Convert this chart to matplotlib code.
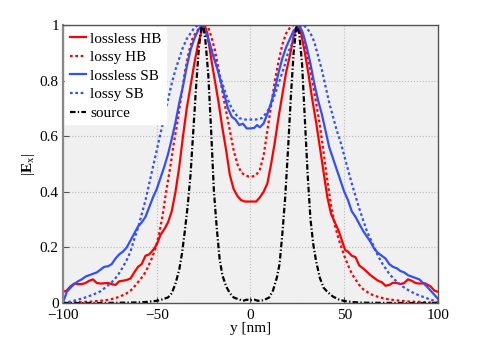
import matplotlib
matplotlib.use("Agg")
import matplotlib.pyplot as plt

# lossless HB (red solid)
y_lossless_hb = [-100, -98, -96, -94, -92, -90, -88, -86, -84, -82, -80, -78, -76, -74, -72, -70,
                 -68, -66, -64, -62, -60, -58, -56, -54, -52, -50, -48, -46, -44, -42, -40, -38,
                 -36, -34, -32, -30, -28, -26, -24.5, -23, -21, -19, -17, -15, -13, -11, -9, -7,
                 -5, -3, 0, 3, 5, 7, 9, 11, 13, 15, 17, 19, 21, 23, 25, 27, 29, 31, 33, 35, 37,
                 39, 41, 43, 45, 47, 49, 50.5, 52, 54, 56, 58, 60, 62, 64, 66, 68, 70, 72, 74,
                 76, 78, 80, 82, 84, 86, 88, 90, 93, 96, 98, 100]
e_lossless_hb = [0.04, 0.045, 0.06, 0.07, 0.068, 0.068, 0.072, 0.08, 0.085, 0.072, 0.07, 0.071,
                 0.072, 0.068, 0.065, 0.078, 0.08, 0.083, 0.088, 0.11, 0.13, 0.14, 0.17, 0.175,
                 0.19, 0.21, 0.245, 0.265, 0.29, 0.33, 0.40, 0.49, 0.60, 0.70, 0.78, 0.86, 0.93,
                 0.98, 1.0, 0.97, 0.88, 0.80, 0.72, 0.63, 0.55, 0.46, 0.41, 0.385, 0.37, 0.365,
                 0.365, 0.365, 0.38, 0.40, 0.43, 0.50, 0.58, 0.67, 0.75, 0.83, 0.89, 0.96, 1.0,
                 0.97, 0.90, 0.82, 0.73, 0.65, 0.56, 0.47, 0.38, 0.32, 0.29, 0.26, 0.22, 0.19,
                 0.185, 0.17, 0.165, 0.135, 0.125, 0.113, 0.10, 0.09, 0.08, 0.075, 0.062, 0.065,
                 0.073, 0.072, 0.068, 0.072, 0.085, 0.08, 0.072, 0.07, 0.071, 0.06, 0.045, 0.04]

# lossy HB (red dotted)
y_lossy_hb = [-100, -95, -90, -85, -80, -75, -70, -66, -63, -60, -57, -55, -53, -51, -49, -47,
              -45, -43, -41, -39, -37, -35, -33, -31, -29, -27, -25, -23, -21, -19, -17, -15,
              -13, -11, -9, -7, -5, -3, -1, 1, 3, 5, 7, 9, 11, 13, 15, 17, 19, 21, 23, 25, 27,
              29, 31, 33, 35, 37, 39, 41, 43, 45, 47, 50, 53, 55, 58, 60, 64, 68, 72, 76, 80,
              85, 90, 95, 100]
e_lossy_hb = [0.0, 0.002, 0.004, 0.005, 0.008, 0.012, 0.022, 0.035, 0.05, 0.075, 0.10, 0.125,
              0.155, 0.19, 0.24, 0.31, 0.40, 0.48, 0.57, 0.65, 0.74, 0.83, 0.90, 0.95, 0.975,
              0.99, 1.0, 1.0, 0.96, 0.91, 0.84, 0.76, 0.69, 0.62, 0.55, 0.50, 0.47, 0.46, 0.455,
              0.455, 0.46, 0.48, 0.53, 0.62, 0.71, 0.80, 0.87, 0.93, 0.97, 0.99, 1.0, 0.99,
              0.97, 0.93, 0.87, 0.80, 0.72, 0.64, 0.54, 0.44, 0.35, 0.28, 0.23, 0.17, 0.12,
              0.095, 0.065, 0.05, 0.032, 0.022, 0.015, 0.011, 0.008, 0.005, 0.004, 0.002, 0.0]

# lossless SB (blue solid)
y_lossless_sb = [-100, -99, -98, -96, -94, -92, -90, -88, -86, -84, -82, -80, -78, -76, -74, -72,
                 -70, -68, -66, -64, -62, -60, -58, -56, -54, -52, -50, -48, -46, -44, -42, -40,
                 -38, -36, -34, -32, -30, -28, -26, -24, -22, -20, -18, -16, -14, -12, -10, -8,
                 -6, -4, -2, 0, 2, 3.5, 5, 7, 9, 11, 13, 15, 17, 19, 21, 23, 26, 28, 30, 32, 34,
                 36, 38, 40, 42, 44, 46, 48, 50, 52, 54, 56, 58, 60, 62, 64, 66, 68, 70, 72, 74,
                 76, 78, 80, 82, 84, 86, 88, 90, 92, 94, 96, 98, 100]
e_lossless_sb = [0.005, 0.02, 0.04, 0.055, 0.068, 0.078, 0.085, 0.095, 0.10, 0.105, 0.11, 0.12,
                 0.13, 0.132, 0.14, 0.16, 0.175, 0.185, 0.20, 0.225, 0.25, 0.275, 0.29, 0.31,
                 0.345, 0.38, 0.41, 0.45, 0.49, 0.535, 0.59, 0.65, 0.72, 0.78, 0.85, 0.91, 0.95,
                 0.98, 1.0, 0.98, 0.94, 0.89, 0.85, 0.80, 0.75, 0.70, 0.67, 0.66, 0.64, 0.645,
                 0.628, 0.628, 0.63, 0.64, 0.632, 0.646, 0.68, 0.72, 0.77, 0.83, 0.88, 0.92,
                 0.95, 0.98, 1.0, 0.97, 0.92, 0.86, 0.79, 0.73, 0.68, 0.62, 0.56, 0.52, 0.48,
                 0.44, 0.40, 0.37, 0.33, 0.31, 0.285, 0.26, 0.24, 0.22, 0.195, 0.18, 0.17, 0.16,
                 0.14, 0.13, 0.125, 0.115, 0.11, 0.10, 0.095, 0.09, 0.085, 0.072, 0.06, 0.045,
                 0.03, 0.015]

# lossy SB (blue dotted)
y_lossy_sb = [-100, -96, -92, -88, -84, -80, -77, -74, -71, -68, -66, -64, -62, -60, -58, -56,
              -54, -52, -50, -48, -46, -44, -42, -40, -38, -36, -34, -32, -30, -28, -26, -24,
              -22, -20, -18, -16, -14, -12, -10, -8, -6, -3, 0, 3, 6, 8, 10, 12, 14, 16, 18,
              20, 22, 24, 26, 28, 30, 32, 34, 36, 38, 40, 42, 44, 46, 48, 50, 52, 54, 56, 58,
              60, 62, 64, 66, 68, 70, 72, 74, 76, 78, 81, 84, 87, 90, 93, 96, 100]
e_lossy_sb = [0.0, 0.005, 0.012, 0.02, 0.03, 0.042, 0.058, 0.075, 0.097, 0.13, 0.155, 0.185,
              0.23, 0.27, 0.32, 0.37, 0.43, 0.49, 0.55, 0.61, 0.67, 0.73, 0.79, 0.84, 0.88,
              0.92, 0.95, 0.97, 0.99, 1.0, 0.995, 0.97, 0.93, 0.90, 0.85, 0.81, 0.77, 0.73,
              0.70, 0.68, 0.665, 0.66, 0.66, 0.66, 0.665, 0.68, 0.70, 0.73, 0.77, 0.81, 0.85,
              0.90, 0.93, 0.97, 0.995, 1.0, 0.99, 0.97, 0.94, 0.89, 0.84, 0.78, 0.72, 0.67,
              0.62, 0.58, 0.53, 0.48, 0.43, 0.385, 0.34, 0.30, 0.26, 0.23, 0.20, 0.17, 0.145,
              0.125, 0.105, 0.09, 0.077, 0.06, 0.047, 0.036, 0.027, 0.02, 0.012, 0.004]

# source (black dash-dot)
y_source = [-100, -80, -60, -55, -50, -47, -44, -42, -40, -38, -36.5, -35, -33.5, -32, -30.5,
            -29, -27.5, -26, -25, -24, -22.5, -21, -19.5, -18, -16.5, -15, -13, -11, -9, -7,
            -4, -2, 0, 2, 4, 7, 10, 12, 14, 15.5, 17, 18.5, 20, 21.5, 23, 24.5, 26, 27.5, 29,
            30.5, 32, 33.5, 35, 37, 39, 41, 44, 47, 50, 55, 60, 80, 100]
e_source = [0.0, 0.0, 0.002, 0.004, 0.008, 0.013, 0.02, 0.035, 0.07, 0.12, 0.18, 0.26, 0.35,
            0.46, 0.62, 0.78, 0.92, 1.0, 0.99, 0.94, 0.82, 0.62, 0.40, 0.27, 0.16, 0.10,
            0.06, 0.035, 0.02, 0.015, 0.008, 0.012, 0.01, 0.012, 0.008, 0.01, 0.02, 0.045,
            0.09, 0.14, 0.25, 0.38, 0.55, 0.74, 0.90, 1.0, 0.97, 0.86, 0.66, 0.46, 0.30, 0.21,
            0.15, 0.09, 0.055, 0.04, 0.023, 0.013, 0.007, 0.003, 0.001, 0.0, 0.0]

red = "#ff0000"
blue = "#3050ff"

plt.rcParams["font.family"] = "Liberation Serif"
plt.rcParams["mathtext.fontset"] = "custom"
plt.rcParams["mathtext.rm"] = "Liberation Serif"
plt.rcParams["mathtext.bf"] = "Liberation Serif:bold"

fig = plt.figure(figsize=(4.85, 3.41), dpi=100)
ax = fig.add_axes([63 / 485, 1 - 303 / 341, 375 / 485, 278 / 341])
ax.set_facecolor("#f0f0f0")

lw = 1.6
ax.plot(y_lossless_hb, e_lossless_hb, color=red, lw=lw, label="lossless HB")
ax.plot(y_lossy_hb, e_lossy_hb, color=red, lw=lw, linestyle=(0, (1.2, 1.2)), label="lossy HB")
ax.plot(y_lossless_sb, e_lossless_sb, color=blue, lw=lw, label="lossless SB")
ax.plot(y_lossy_sb, e_lossy_sb, color=blue, lw=lw, linestyle=(0, (1.2, 1.2)), label="lossy SB")
ax.plot(y_source, e_source, color="black", lw=lw, linestyle=(0, (2.5, 1, 0.6, 1)), label="source")

ax.set_xlim(-100, 100)
ax.set_ylim(0, 1)
ax.set_xticks([-100, -50, 0, 50, 100])
ax.set_xticklabels(["\u2212100", "\u221250", "0", "50", "100"])
ax.set_yticks([0, 0.2, 0.4, 0.6, 0.8, 1])
ax.set_yticklabels(["0", "0.2", "0.4", "0.6", "0.8", "1"])
ax.tick_params(direction="in", length=4, color="#555555", labelsize=11, pad=3)
ax.tick_params(axis="x", pad=4)
ax.grid(True, linestyle=":", color="#bbbbbb", linewidth=0.8)
for s in ax.spines.values():
    s.set_color("#555555")
    s.set_linewidth(1.0)
ax.spines["left"].set_color("#888888")
ax.spines["left"].set_linewidth(1.6)

ax.set_xlabel("y [nm]", fontsize=11, labelpad=0)
ax.set_ylabel(r"$|\mathbf{E}_\mathrm{x}|$", fontsize=11, labelpad=2)

leg = ax.legend(loc="upper left", fontsize=11, frameon=True, fancybox=False,
                handlelength=1.05, handletextpad=0.3, labelspacing=0.32,
                borderpad=0.3, borderaxespad=0.15)
leg.get_frame().set_facecolor("white")
leg.get_frame().set_edgecolor("white")
leg.get_frame().set_alpha(1.0)

fig.savefig("out.png", dpi=100)
